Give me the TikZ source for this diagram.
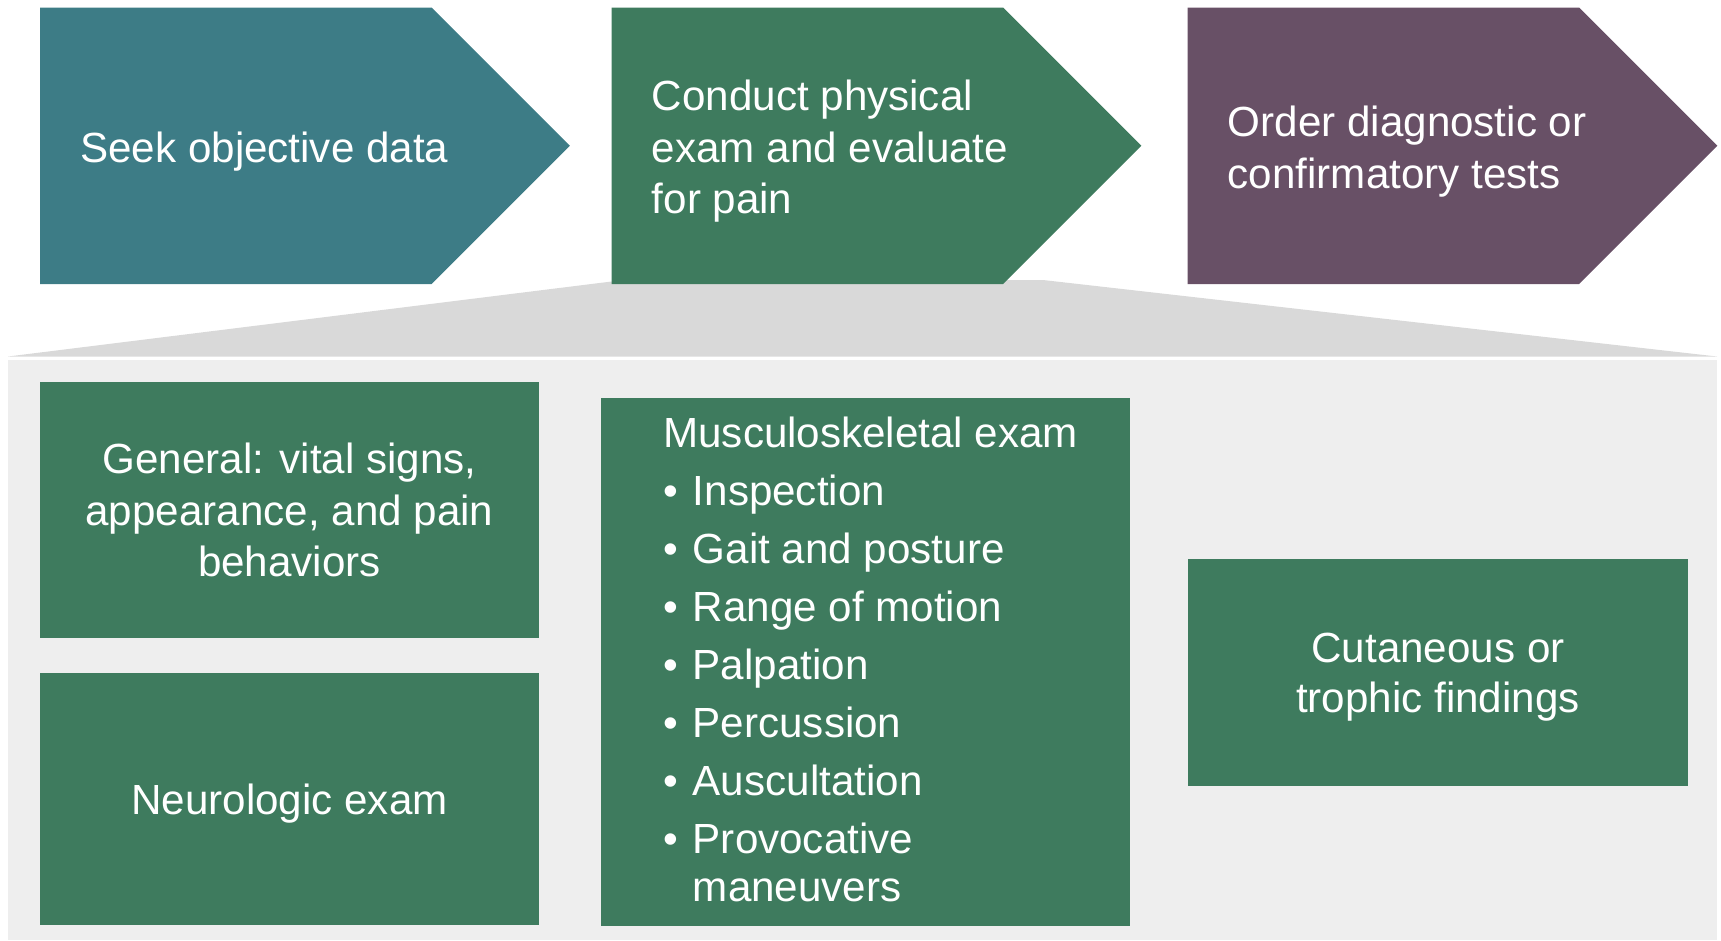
\documentclass[tikz,border=0pt]{standalone}
\usepackage{fontspec}
\setmainfont{Liberation Sans}
\usepackage{tikz}
\definecolor{seekteal}{HTML}{3D7C86}
\definecolor{examgreen}{HTML}{3E7B5E}
\definecolor{orderplum}{HTML}{685066}
\definecolor{zoomgray}{HTML}{D9D9D9}
\definecolor{panelgray}{HTML}{EEEEEE}
\tikzstyle{chevrontext}=[anchor=west,align=left,text=white,inner sep=0pt,text depth=0pt,font=\fontsize{24}{29.3}\selectfont]
\tikzstyle{finding}=[shape=rectangle,fill=examgreen,text=white,align=center,inner sep=0pt,text depth=0pt,font=\fontsize{24}{29.3}\selectfont]
\tikzstyle{findinglist}=[anchor=north west,align=left,text=white,inner sep=0pt,font=\fontsize{24}{27.4}\selectfont]
\newcommand{\chevron}[2]{\fill[#2] (#1,7.5) -- ++(391.5,0) -- ++(138.25,138.25) -- ++(-138.25,138.25) -- ++(-391.5,0) -- cycle;}
\newcommand{\mbul}{\makebox[16.8pt][l]{\textbullet}}

\begin{document}
\begin{tikzpicture}[x=0.02cm,y=-0.02cm]

		\useasboundingbox (0,0) rectangle (1721,940);

		% zoom from the middle step onto the panel
		\fill[panelgray] (8,360) rectangle (1717,940);
		\fill[zoomgray] (611.5,281.5) -- (1043,280) -- (1717,356.5) -- (8,356.5) -- cycle;

		% steps
		\chevron{40}{seekteal}
		\chevron{611.5}{examgreen}
		\chevron{1187.5}{orderplum}
		\node[chevrontext] (seek) at (80,147) {Seek objective data};
		\node[chevrontext] (conduct) at (651.5,147) {Conduct physical\\exam and evaluate\\for pain};
		\node[chevrontext] (order) at (1227.5,147) {Order diagnostic or\\confirmatory tests};

		% exam parts
		\node[finding,minimum width=9.98cm,minimum height=5.12cm] (general) at (289.5,510)
			{General: vital signs,\\appearance, and pain\\behaviors};
		\node[finding,minimum width=9.98cm,minimum height=5.04cm] (neuro) at (289.5,799)
			{Neurologic exam};
		\node[finding,minimum width=10.59cm,minimum height=10.56cm] (msk) at (865.25,662) {};
		\node[findinglist] (msklist) at (663,417)
			{Musculoskeletal exam\\[5.6pt]
			\mbul Inspection\\[5.6pt]
			\mbul Gait and posture\\[5.6pt]
			\mbul Range of motion\\[5.6pt]
			\mbul Palpation\\[5.6pt]
			\mbul Percussion\\[5.6pt]
			\mbul Auscultation\\[5.6pt]
			\mbul Provocative\\
			\hspace*{16.8pt}maneuvers};
		\node[finding,minimum width=10cm,minimum height=4.56cm,
			font=\fontsize{24}{28.7}\selectfont] (cutaneous) at (1438,672.5)
			{Cutaneous or\\trophic findings};

\end{tikzpicture}
\end{document}
